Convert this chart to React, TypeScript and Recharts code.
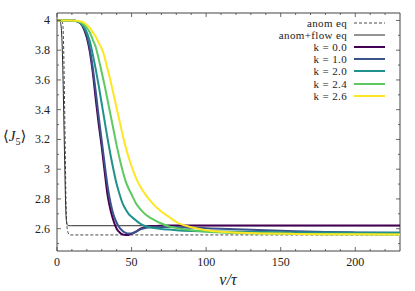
import { LineChart, Line, XAxis, YAxis, ReferenceLine } from "recharts";

// time grid shared by the k curves
const vK = [0, 10, 14, 17, 20, 22, 24, 26, 28, 30, 32, 34, 36, 38, 40, 42, 44, 46, 48, 50, 53, 56, 60, 65, 70, 75, 80, 90, 100, 110, 125, 140, 160, 180, 200, 230];

const k00 = [4, 4, 3.992, 3.965, 3.885, 3.79, 3.65, 3.47, 3.3, 3.15, 2.98, 2.82, 2.72, 2.65, 2.6, 2.575, 2.562, 2.557, 2.558, 2.565, 2.58, 2.6, 2.613, 2.618, 2.62, 2.621, 2.621, 2.621, 2.621, 2.621, 2.621, 2.621, 2.621, 2.621, 2.621, 2.621];
const k10 = [4, 4, 3.995, 3.97, 3.9, 3.81, 3.68, 3.52, 3.35, 3.19, 3.03, 2.88, 2.77, 2.69, 2.64, 2.605, 2.585, 2.572, 2.567, 2.568, 2.58, 2.595, 2.606, 2.611, 2.612, 2.612, 2.611, 2.607, 2.603, 2.599, 2.594, 2.589, 2.583, 2.578, 2.575, 2.572];
const k20 = [4, 4, 3.993, 3.97, 3.92, 3.86, 3.77, 3.67, 3.56, 3.44, 3.32, 3.2, 3.09, 2.99, 2.9, 2.83, 2.77, 2.73, 2.7, 2.68, 2.655, 2.632, 2.615, 2.605, 2.598, 2.594, 2.59, 2.585, 2.583, 2.581, 2.579, 2.577, 2.575, 2.574, 2.573, 2.572];
const k24 = [4, 4, 3.995, 3.98, 3.95, 3.92, 3.87, 3.82, 3.74, 3.65, 3.56, 3.46, 3.36, 3.26, 3.16, 3.07, 2.99, 2.92, 2.87, 2.83, 2.77, 2.73, 2.69, 2.66, 2.635, 2.615, 2.605, 2.59, 2.58, 2.575, 2.57, 2.567, 2.565, 2.563, 2.562, 2.561];
const k26 = [4, 4, 3.997, 3.99, 3.97, 3.95, 3.92, 3.89, 3.85, 3.81, 3.75, 3.67, 3.59, 3.5, 3.41, 3.32, 3.23, 3.15, 3.08, 3.02, 2.94, 2.88, 2.82, 2.76, 2.715, 2.68, 2.645, 2.61, 2.59, 2.58, 2.572, 2.568, 2.565, 2.563, 2.562, 2.561];

// equilibrium curves, finer grid near the start
const vEq = [0, 2, 2.5, 3, 3.5, 4, 4.5, 5, 5.5, 6, 6.5, 7, 7.5, 8, 9, 10, 230];
const flowEq = [4, 3.995, 3.98, 3.93, 3.82, 3.63, 3.38, 3.12, 2.88, 2.7, 2.64, 2.625, 2.621, 2.62, 2.62, 2.62, 2.62];
const anomEq = [4, 4, 3.998, 3.995, 3.99, 3.96, 3.8, 3.5, 3.15, 2.8, 2.64, 2.59, 2.572, 2.563, 2.558, 2.558, 2.558];

const xTicks = [0, 10, 20, 30, 40, 50, 60, 70, 80, 90, 100, 110, 120, 130, 140, 150, 160, 170, 180, 190, 200, 210, 220];
const xLabels = [0, 50, 100, 150, 200];
const yTicks = [2.5, 2.6, 2.7, 2.8, 2.9, 3, 3.1, 3.2, 3.3, 3.4, 3.5, 3.6, 3.7, 3.8, 3.9, 4];
const yLabels = [2.6, 2.8, 3, 3.2, 3.4, 3.6, 3.8, 4];

const pts = (vs: number[], js: number[]) => vs.map((v, i) => ({ v, j: js[i] }));

const series = [
  { name: "anom eq", data: pts(vEq, anomEq), color: "#333", width: 0.9, dash: "3 2" },
  { name: "anom+flow eq", data: pts(vEq, flowEq), color: "#2b2b2b", width: 1, dash: undefined },
  { name: "k = 0.0", data: pts(vK, k00), color: "#440154", width: 2, dash: undefined },
  { name: "k = 1.0", data: pts(vK, k10), color: "#3b528b", width: 2, dash: undefined },
  { name: "k = 2.0", data: pts(vK, k20), color: "#21918c", width: 2, dash: undefined },
  { name: "k = 2.4", data: pts(vK, k24), color: "#5ec962", width: 2, dash: undefined },
  { name: "k = 2.6", data: pts(vK, k26), color: "#fde725", width: 2, dash: undefined },
];

const W = 415;
const H = 291;
const TOP = 13;
const RIGHT = 400;
const FRAME = "#444";
const FONT = "'Liberation Serif', 'DejaVu Serif', serif";
const ROW = 12.2;

const isIn = (list: number[], v: number) => list.some((l) => Math.abs(l - v) < 1e-6);

function XTick(props: any) {
  const { x, y, payload } = props;
  const major = isIn(xLabels, payload.value);
  const len = major ? 4 : 2;
  return (
    <g>
      <line x1={x} x2={x} y1={y} y2={y - len} stroke={FRAME} strokeWidth={0.8} />
      <line x1={x} x2={x} y1={TOP} y2={TOP + len} stroke={FRAME} strokeWidth={0.8} />
      {major && (
        <text x={x} y={y + 15} textAnchor="middle" fontSize={12} fontFamily={FONT} fill="#222">
          {payload.value}
        </text>
      )}
    </g>
  );
}

function YTick(props: any) {
  const { x, y, payload } = props;
  const major = isIn(yLabels, payload.value);
  const len = major ? 4 : 2;
  return (
    <g>
      <line x1={x} x2={x + len} y1={y} y2={y} stroke={FRAME} strokeWidth={0.8} />
      <line x1={RIGHT} x2={RIGHT - len} y1={y} y2={y} stroke={FRAME} strokeWidth={0.8} />
      {major && (
        <text x={x - 7} y={y + 4} textAnchor="end" fontSize={12} fontFamily={FONT} fill="#222">
          {payload.value}
        </text>
      )}
    </g>
  );
}

export default function App() {
  return (
    <div style={{ position: "absolute", left: 0, top: 0, width: W, height: H, background: "#fff" }}>
      <LineChart width={W} height={H} margin={{ top: TOP, right: W - RIGHT, bottom: 0, left: 0 }}>
        <XAxis
          type="number"
          dataKey="v"
          domain={[0, 230]}
          ticks={xTicks}
          interval={0}
          height={40}
          tickSize={0}
          tickMargin={0}
          tickLine={false}
          tick={<XTick />}
          axisLine={{ stroke: FRAME, strokeWidth: 1 }}
          allowDataOverflow
        />
        <YAxis
          type="number"
          dataKey="j"
          domain={[2.45, 4.05]}
          ticks={yTicks}
          interval={0}
          width={57}
          tickSize={0}
          tickMargin={0}
          tickLine={false}
          tick={<YTick />}
          axisLine={{ stroke: FRAME, strokeWidth: 1 }}
          allowDataOverflow
        />
        <ReferenceLine y={4.05} stroke={FRAME} strokeWidth={1} ifOverflow="visible" />
        <ReferenceLine x={230} stroke={FRAME} strokeWidth={1} ifOverflow="visible" />
        {series.map((s) => (
          <Line
            key={s.name}
            data={s.data}
            dataKey="j"
            name={s.name}
            type="monotone"
            stroke={s.color}
            strokeWidth={s.width}
            strokeDasharray={s.dash}
            dot={false}
            activeDot={false}
            isAnimationActive={false}
          />
        ))}
      </LineChart>

      <div
        style={{
          position: "absolute",
          left: 3,
          top: 127,
          fontFamily: FONT,
          fontSize: 15,
          color: "#222",
          whiteSpace: "nowrap",
        }}
      >
        ⟨<i>J</i>
        <sub style={{ fontSize: 10 }}>5</sub>⟩
      </div>

      <div
        style={{
          position: "absolute",
          left: 208,
          top: 271,
          width: 40,
          textAlign: "center",
          fontFamily: FONT,
          fontSize: 16,
          color: "#222",
          fontStyle: "italic",
        }}
      >
        v/τ
      </div>

      <div
        style={{
          position: "absolute",
          right: W - 385,
          top: 16.6,
          fontFamily: FONT,
          fontSize: 11,
          letterSpacing: 0.35,
          color: "#222",
        }}
      >
        {series.map((s) => (
          <div key={s.name} style={{ display: "flex", alignItems: "center", justifyContent: "flex-end", height: ROW }}>
            <span style={{ whiteSpace: "nowrap", lineHeight: `${ROW}px` }}>{s.name}</span>
            <svg width={32} height={8} style={{ marginLeft: 6 }}>
              <line
                x1={1}
                x2={32}
                y1={4}
                y2={4}
                stroke={s.color}
                strokeWidth={s.width}
                strokeDasharray={s.dash}
              />
            </svg>
          </div>
        ))}
      </div>
    </div>
  );
}
